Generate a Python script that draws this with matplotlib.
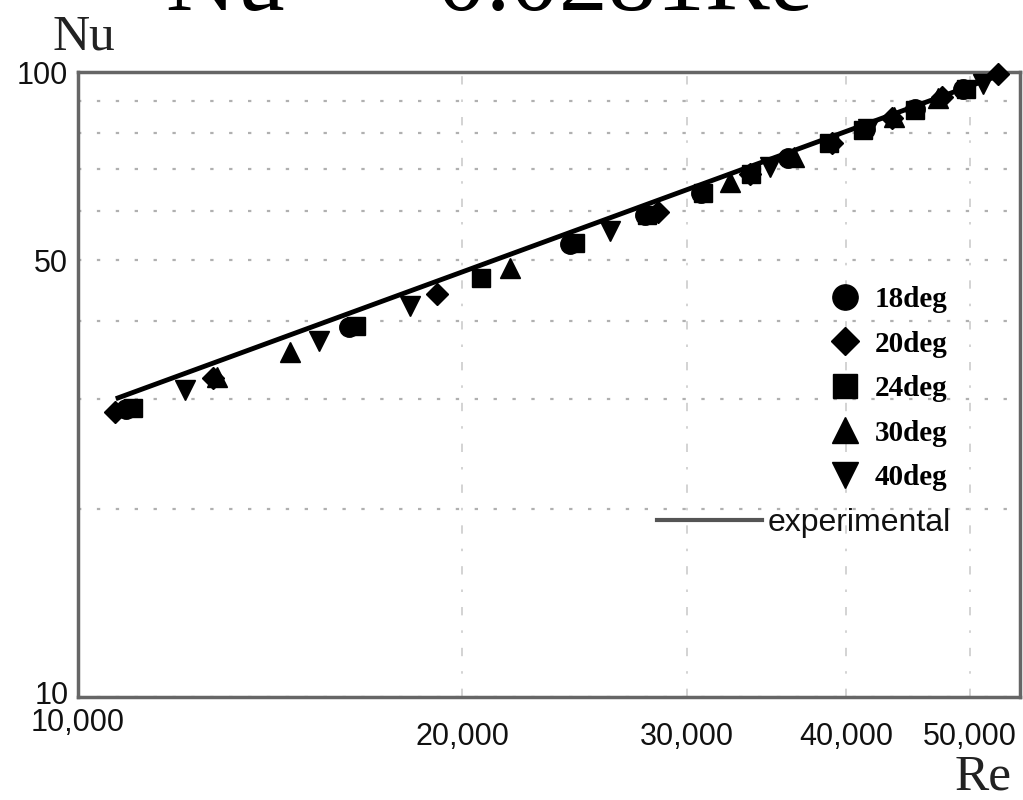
import matplotlib.pyplot as plt
from matplotlib.lines import Line2D
from matplotlib.transforms import ScaledTranslation

# значення (Re, Nu)
re_18 = [10900, 16300, 24300, 27800, 30800, 36000, 41400, 45300, 49400]
nu_18 = [28.9, 39.1, 53.1, 59.0, 64.0, 72.8, 81.0, 87.3, 93.9]

re_20 = [10700, 12750, 19100, 28500, 33600, 39000, 43450, 47500, 52600]
nu_20 = [28.6, 32.4, 44.2, 59.8, 68.7, 77.0, 84.4, 91.2, 99.3]

re_24 = [11050, 16500, 20700, 24500, 27900, 30900, 33700, 38800, 41200, 45300, 49600]
nu_24 = [29.0, 39.3, 46.8, 53.3, 59.1, 64.1, 68.8, 77.1, 80.8, 87.0, 93.8]

re_30 = [12850, 14650, 21800, 32400, 36400, 43600, 47200]
nu_30 = [32.5, 35.6, 48.6, 66.7, 73.1, 84.6, 90.8]

re_40 = [12130, 15450, 18200, 26100, 34850, 41600, 51200]
nu_40 = [31.0, 37.1, 42.2, 55.7, 70.5, 81.2, 95.7]

re_line = [10750, 52800]
nu_line = [30.1, 98.9]

series = [
    ("18deg", re_18, nu_18, "o", 14),
    ("20deg", re_20, nu_20, "D", 11),
    ("24deg", re_24, nu_24, "s", 13),
    ("30deg", re_30, nu_30, "^", 14),
    ("40deg", re_40, nu_40, "v", 14),
]

x_ticks = [10000, 20000, 30000, 40000, 50000]
x_labels = ["10,000", "20,000", "30,000", "40,000", "50,000"]
y_ticks = [10, 50, 100]
y_labels = ["10", "50", "100"]
y_minor = [20, 30, 40, 60, 70, 80, 90]

serif = "Liberation Serif"
sans = "Liberation Sans"

fig = plt.figure(figsize=(10.23, 8), dpi=100)
ax = fig.add_axes([78 / 1023, 1 - 697 / 800, 942 / 1023, 625 / 800])
ax.set_xscale("log")
ax.set_yscale("log")
ax.set_xlim(10000, 54720)
ax.set_ylim(10, 100)

ax.set_xticks(x_ticks)
ax.set_xticklabels(x_labels)
ax.set_xticks([], minor=True)
ax.set_yticks(y_ticks)
ax.set_yticklabels(y_labels)
ax.set_yticks(y_minor, minor=True)
ax.set_yticklabels([], minor=True)
ax.tick_params(which="both", length=0)
ax.tick_params(axis="x", pad=18, labelsize=22, labelcolor="#111")
ax.tick_params(axis="y", pad=7, labelsize=22, labelcolor="#111")
for lab in ax.get_xticklabels() + ax.get_yticklabels():
    lab.set_family(sans)

# підняти підпис 10,000 та 10
ax.get_xticklabels()[0].set_transform(
    ax.get_xticklabels()[0].get_transform() + ScaledTranslation(0, 14 / 100, fig.dpi_scale_trans))
ax.get_yticklabels()[0].set_transform(
    ax.get_yticklabels()[0].get_transform() + ScaledTranslation(0, 5 / 100, fig.dpi_scale_trans))

ax.grid(axis="y", which="both", linestyle=(0, (1.5, 7)), color="#b0b0b0", linewidth=1.6)
ax.grid(axis="x", which="major", linestyle=(0, (5, 9, 1.5, 9)), color="#cccccc", linewidth=1.2)

for s in ax.spines.values():
    s.set_color("#666666")
    s.set_linewidth(2.5)

line, = ax.plot(re_line, nu_line, color="black", linewidth=3.5, zorder=3)

handles = []
for name, xs, ys, mk, ms in series:
    h, = ax.plot(xs, ys, linestyle="none", marker=mk, markersize=ms, color="black",
                 zorder=4, clip_on=False, label=name)
    handles.append(h)

leg1 = ax.legend(handles=handles, loc="upper left", bbox_to_anchor=(0.799, 0.6574),
                 frameon=False, borderpad=0, borderaxespad=0, handlelength=1.0,
                 handletextpad=0.5, labelspacing=0.6, markerscale=1.3,
                 prop={"family": serif, "weight": "bold", "size": 21})
ax.add_artist(leg1)

exp_handle = Line2D([], [], color="#555555", linewidth=3)
leg2 = ax.legend(handles=[exp_handle], labels=["experimental"], loc="upper left",
                 bbox_to_anchor=(0.6146, 0.302), frameon=False, borderpad=0,
                 borderaxespad=0, handlelength=3.3, handletextpad=0.15,
                 prop={"family": sans, "size": 23})
for t in leg2.get_texts():
    t.set_color("#111")

fig.text(166 / 1023, 1 - 10 / 800, "Nu  =  0.0281Re", family=serif, fontsize=70,
         ha="left", va="baseline")
fig.text(52 / 1023, 1 - 50 / 800, "Nu", family=serif, fontsize=37, ha="left", va="baseline",
         color="#222")
fig.text(955 / 1023, 1 - 790 / 800, "Re", family=serif, fontsize=37, ha="left", va="baseline",
         color="#222")

fig.savefig("out.png", dpi=100)
